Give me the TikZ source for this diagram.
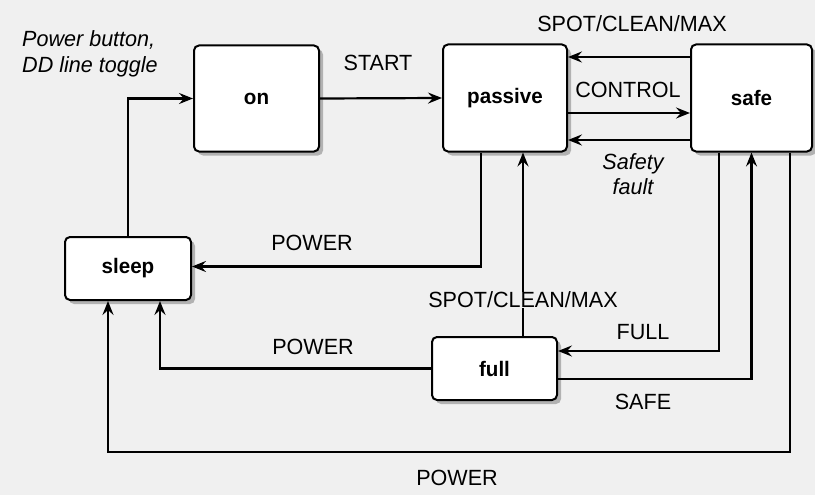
\documentclass[tikz,border=0pt]{standalone}
\usepackage{fontspec}
\setmainfont{Liberation Sans}[FakeStretch=0.98]
\usetikzlibrary{arrows.meta,shadows}
\begin{document}
\begin{tikzpicture}[x=1pt,y=-1pt,
  font=\fontsize{22}{26}\selectfont,
  state/.style={draw, line width=2pt, rounded corners=5pt, fill=white,
    font=\fontsize{21}{25}\selectfont\bfseries,
    drop shadow={shadow xshift=4pt, shadow yshift=-4pt, fill=black!50, opacity=0.55},
    inner sep=0pt},
  conn/.style={line width=2.2pt, -{Stealth[length=14pt,width=11pt,inset=5pt]}},
  lbl/.style={inner sep=1pt}]
\useasboundingbox[fill=black!6] (0,0) rectangle (815,495);

\node[state, minimum width=125pt, minimum height=106pt] (on) at (256.5,98.5) {on};
\node[state, minimum width=124pt, minimum height=107pt] (passive) at (505,98) {passive};
\node[state, minimum width=121pt, minimum height=107pt] (safe) at (751.5,98) {safe};
\node[state, minimum width=126pt, minimum height=63pt] (sleep) at (128,268.5) {sleep};
\node[state, minimum width=125pt, minimum height=63pt] (full) at (494.5,368.5) {full};

\coordinate (bot) at (108,452);

% sleep -> on
\draw[conn] (sleep.north) |- (on.west);
% on -> passive
\draw[conn] (on.east) -- (passive.west);
% safe -> passive (SPOT/CLEAN/MAX)
\draw[conn] ([yshift=41pt]safe.west) -- ([yshift=41pt]passive.east);
% passive -> safe (CONTROL)
\draw[conn] ([yshift=-15pt]passive.east) -- ([yshift=-15pt]safe.west);
% safe -> passive (Safety fault)
\draw[conn] ([yshift=-42pt]safe.west) -- ([yshift=-42pt]passive.east);
% passive -> sleep (POWER)
\draw[conn] ([xshift=-24pt]passive.south) |- ([yshift=2pt]sleep.east);
% full -> passive (SPOT/CLEAN/MAX)
\draw[conn] ([xshift=28.5pt]full.north) -- ([xshift=18pt]passive.south);
% safe -> full (FULL)
\draw[conn] ([xshift=-32.5pt]safe.south) |- ([yshift=17.5pt]full.east);
% full -> safe (SAFE)
\draw[conn] ([yshift=-10.5pt]full.east) -| (safe.south);
% full -> sleep (POWER)
\draw[conn] (full.west) -| ([xshift=32pt]sleep.south);
% safe -> sleep (POWER)
\draw[conn] ([xshift=38.5pt]safe.south) |- (bot) -- ([xshift=-20pt]sleep.south);

% labels
\node[lbl] (lstart) at (378,63) {START};
\node[lbl] (lscm) at (632,24) {SPOT/CLEAN/MAX};
\node[lbl] (lctrl) at (628,90) {CONTROL};
\node[lbl, align=center, font=\fontsize{22}{25}\selectfont\itshape] (lsf) at (633,174) {Safety\\fault};
\node[lbl] (lpow1) at (312,243) {POWER};
\node[lbl, fill=black!6, inner ysep=0pt] (lscm2) at (523,300) {SPOT/CLEAN/MAX};
\node[lbl] (lfull) at (643,332) {FULL};
\node[lbl] (lsafe) at (643,402) {SAFE};
\node[lbl] (lpow2) at (313,347) {POWER};
\node[lbl] (lpow3) at (457,478) {POWER};
\node[lbl, anchor=north west, align=left, font=\fontsize{22}{26}\selectfont\itshape] (lpb) at (21,29) {Power button,\\DD line toggle};
\end{tikzpicture}
\end{document}
